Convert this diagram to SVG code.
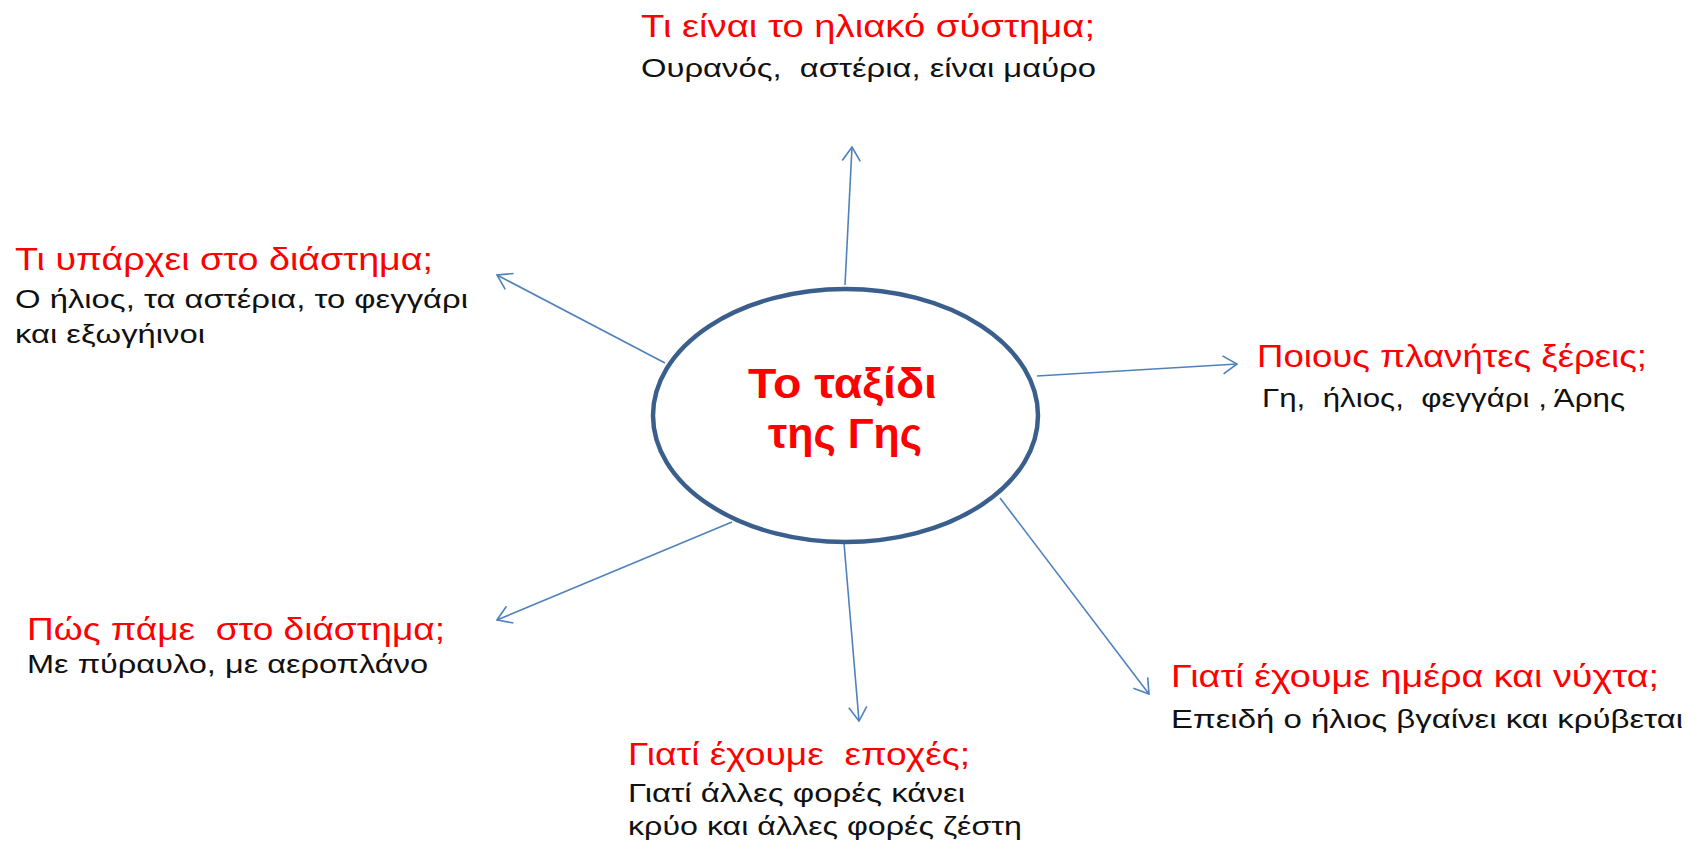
<svg xmlns="http://www.w3.org/2000/svg" width="1700" height="848" viewBox="0 0 1700 848">
<style>
text{white-space:pre}
.q{font-family:"Liberation Sans","Noto Sans",sans-serif;font-size:32px;fill:#ff0000}
.a{font-family:"Liberation Sans","Noto Sans",sans-serif;font-size:26px;fill:#111111}
.c{font-family:"Liberation Sans","DejaVu Sans",sans-serif;font-size:42px;font-weight:bold;fill:#ff0000}
.conn{stroke:#4f81bd;stroke-width:1.6;fill:none}
</style>
<defs>
<marker id="ah" viewBox="0 0 16 20" refX="15" refY="10" markerWidth="16" markerHeight="20" markerUnits="userSpaceOnUse" orient="auto">
<path d="M1,1 L15,10 L1,19" fill="none" stroke="#4f81bd" stroke-width="1.6"/>
</marker>
</defs>
<rect width="1700" height="848" fill="#ffffff"/>
<g id="connectors">
<line class="conn" x1="845" y1="285" x2="852" y2="147" marker-end="url(#ah)"/>
<line class="conn" x1="665" y1="363" x2="497" y2="275" marker-end="url(#ah)"/>
<line class="conn" x1="1037" y1="376" x2="1237" y2="364" marker-end="url(#ah)"/>
<line class="conn" x1="732" y1="522" x2="497" y2="620" marker-end="url(#ah)"/>
<line class="conn" x1="844" y1="543" x2="859" y2="721" marker-end="url(#ah)"/>
<line class="conn" x1="1000" y1="498" x2="1149" y2="694" marker-end="url(#ah)"/>
</g>
<g id="center">
<ellipse cx="845.5" cy="415.5" rx="192.5" ry="126.5" fill="#ffffff" stroke="#3a5f8d" stroke-width="4.5"/>
<text class="c" x="842.5" y="398" text-anchor="middle" textLength="189" lengthAdjust="spacingAndGlyphs">Το ταξίδι</text>
<text class="c" x="845" y="448" text-anchor="middle" textLength="154" lengthAdjust="spacingAndGlyphs">της Γης</text>
</g>
<g id="node-top">
<text class="q" x="641" y="37" textLength="454" lengthAdjust="spacingAndGlyphs">Τι είναι το ηλιακό σύστημα;</text>
<text class="a" x="641" y="77" textLength="455" lengthAdjust="spacingAndGlyphs">Ουρανός,  αστέρια, είναι μαύρο</text>
</g>
<g id="node-upper-left">
<text class="q" x="15" y="270" textLength="418" lengthAdjust="spacingAndGlyphs">Τι υπάρχει στο διάστημα;</text>
<text class="a" x="15" y="308" textLength="453" lengthAdjust="spacingAndGlyphs">Ο ήλιος, τα αστέρια, το φεγγάρι</text>
<text class="a" x="15" y="343" textLength="190" lengthAdjust="spacingAndGlyphs">και εξωγήινοι</text>
</g>
<g id="node-right">
<text class="q" x="1257" y="367" textLength="390" lengthAdjust="spacingAndGlyphs">Ποιους πλανήτες ξέρεις;</text>
<text class="a" x="1262" y="407" textLength="363" lengthAdjust="spacingAndGlyphs">Γη,  ήλιος,  φεγγάρι , Άρης</text>
</g>
<g id="node-lower-left">
<text class="q" x="27" y="640" textLength="418" lengthAdjust="spacingAndGlyphs">Πώς πάμε  στο διάστημα;</text>
<text class="a" x="27" y="673" textLength="401" lengthAdjust="spacingAndGlyphs">Με πύραυλο, με αεροπλάνο</text>
</g>
<g id="node-lower-right">
<text class="q" x="1171" y="687" textLength="488" lengthAdjust="spacingAndGlyphs">Γιατί έχουμε ημέρα και νύχτα;</text>
<text class="a" x="1171" y="728" textLength="512" lengthAdjust="spacingAndGlyphs">Επειδή ο ήλιος βγαίνει και κρύβεται</text>
</g>
<g id="node-bottom">
<text class="q" x="628" y="765" textLength="342" lengthAdjust="spacingAndGlyphs">Γιατί έχουμε  εποχές;</text>
<text class="a" x="628" y="802" textLength="337" lengthAdjust="spacingAndGlyphs">Γιατί άλλες φορές κάνει</text>
<text class="a" x="628" y="835" textLength="394" lengthAdjust="spacingAndGlyphs">κρύο και άλλες φορές ζέστη</text>
</g>
</svg>
